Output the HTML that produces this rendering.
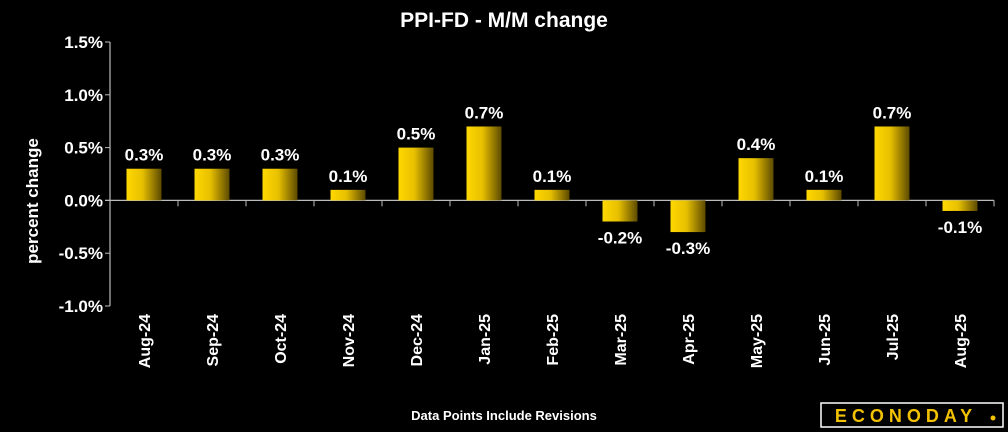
<!DOCTYPE html>
<html><head><meta charset="utf-8"><style>
body{margin:0;background:#000;}
svg{display:block;font-family:"Liberation Sans",Arial,sans-serif;}
</style></head><body>
<svg width="1008" height="432" viewBox="0 0 1008 432">
<defs><linearGradient id="g" x1="0" x2="1" y1="0" y2="0">
<stop offset="0" stop-color="#ffd800"/><stop offset="0.45" stop-color="#e8c000"/><stop offset="1" stop-color="#5c4a00"/></linearGradient></defs>
<rect width="1008" height="432" fill="#000"/>
<text x="504" y="27" fill="#fff" font-size="21" font-weight="bold" text-anchor="middle">PPI-FD - M/M change</text>
<text transform="translate(38,201) rotate(-90)" fill="#fff" font-size="17" font-weight="bold" text-anchor="middle">percent change</text>
<text x="504" y="420" fill="#fff" font-size="13" font-weight="bold" text-anchor="middle">Data Points Include Revisions</text>
<g>
<rect x="821" y="403" width="182" height="24" fill="#000" stroke="#fff" stroke-width="1.5"/>
<text x="906" y="422" fill="#f2c200" font-size="18" font-weight="bold" text-anchor="middle" letter-spacing="5">ECONODAY</text>
<circle cx="993" cy="418" r="2.5" fill="#f2c200"/>
</g>
<g id="axes"></g><g id="bars"></g>
</svg>
<script>
const categories=["Aug-24","Sep-24","Oct-24","Nov-24","Dec-24","Jan-25","Feb-25","Mar-25","Apr-25","May-25","Jun-25","Jul-25","Aug-25"];
const values=[0.3,0.3,0.3,0.1,0.5,0.7,0.1,-0.2,-0.3,0.4,0.1,0.7,-0.1];
const yTicks=[1.5,1.0,0.5,0.0,-0.5,-1.0];
const NS="http://www.w3.org/2000/svg";
const left=110,right=994,yTop=42,yBot=306,vMax=1.5,vMin=-1.0;
const y=v=>yTop+(vMax-v)/(vMax-vMin)*(yBot-yTop);
const band=(right-left)/categories.length;
const x=i=>left+band*(i+0.5);
function mk(t,a,p){const e=document.createElementNS(NS,t);for(const k in a)e.setAttribute(k,a[k]);p.appendChild(e);return e;}
const ax=document.getElementById('axes'),bs=document.getElementById('bars');
const yl=mk('line',{x1:left,x2:left,y1:yTop,y2:yBot,stroke:'#bbb','stroke-width':1.2},ax);


yTicks.forEach(t=>{
 const l=mk('line',{x1:left-5,x2:left,y1:y(t),y2:y(t),stroke:'#bbb'},ax);
 
 
 const tx=mk('text',{x:left-7,y:y(t)+6,fill:'#fff','font-size':17,'font-weight':'bold','text-anchor':'end'},ax);
 tx.textContent=t.toFixed(1)+'%';
 
 
});
const xl=mk('line',{x1:left-5,x2:right,y1:y(0),y2:y(0),stroke:'#bbb','stroke-width':1.2},ax);


categories.forEach((c,i)=>{
 const bx=left+band*(i+1);
 const tk=mk('line',{x1:bx,x2:bx,y1:y(0),y2:y(0)+6,stroke:'#bbb'},ax);
 
 
 const v=values[i],w=35;
 const r=mk('rect',{x:x(i)-w/2,y:Math.min(y(v),y(0)),width:w,height:Math.abs(y(v)-y(0)),fill:'url(#g)'},bs);
 
 
 const lt=mk('text',{x:x(i),y:v>=0?y(v)-8:y(v)+22,fill:'#fff','font-size':17,'font-weight':'bold','text-anchor':'middle'},bs);
 lt.textContent=v.toFixed(1)+'%';
 
 
 const ct=mk('text',{transform:`translate(${x(i)+6},314) rotate(-90)`,fill:'#fff','font-size':16,'font-weight':'bold','text-anchor':'end'},ax);
 ct.textContent=c;
 
 
});
</script>
</body></html>
